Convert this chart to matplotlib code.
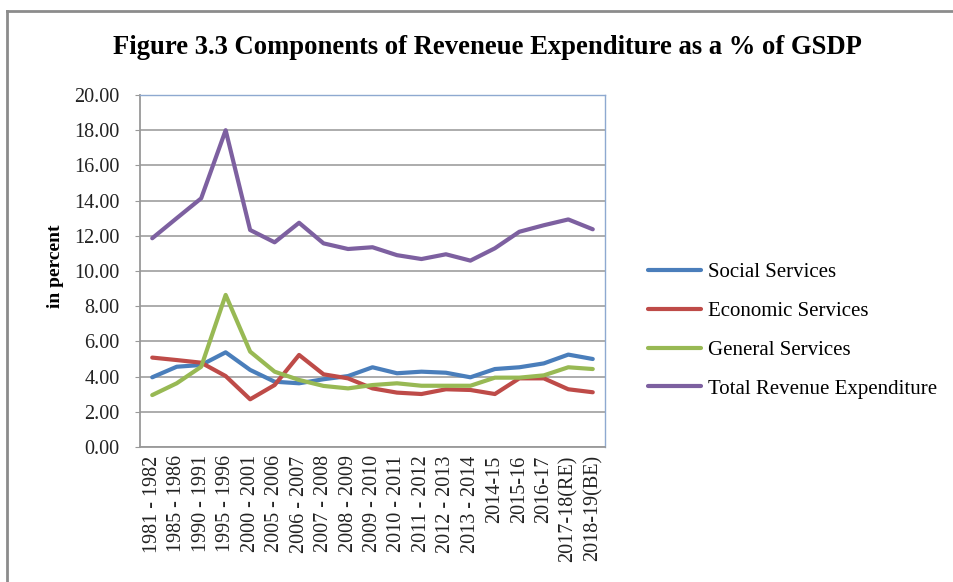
import matplotlib
matplotlib.use("Agg")
import matplotlib.pyplot as plt
from matplotlib.lines import Line2D

periods = ["1981 - 1982", "1985 - 1986", "1990 - 1991", "1995 - 1996", "2000 - 2001",
           "2005 - 2006", "2006 - 2007", "2007 - 2008", "2008 - 2009", "2009 - 2010",
           "2010 - 2011", "2011 - 2012", "2012 - 2013", "2013 - 2014", "2014-15",
           "2015-16", "2016-17", "2017-18(RE)", "2018-19(BE)"]

social = [3.96, 4.56, 4.66, 5.38, 4.38, 3.71, 3.62, 3.85, 4.03, 4.53,
          4.19, 4.28, 4.22, 3.96, 4.43, 4.53, 4.75, 5.25, 5.00]
economic = [5.08, 4.94, 4.79, 4.03, 2.71, 3.52, 5.23, 4.13, 3.90, 3.33,
            3.09, 3.01, 3.28, 3.24, 3.01, 3.90, 3.90, 3.28, 3.11]
general = [2.95, 3.62, 4.56, 8.64, 5.42, 4.28, 3.81, 3.47, 3.33, 3.52,
           3.62, 3.48, 3.48, 3.48, 3.94, 3.94, 4.07, 4.53, 4.43]
total = [11.86, 13.00, 14.13, 18.00, 12.33, 11.63, 12.74, 11.57, 11.25, 11.35,
         10.90, 10.68, 10.95, 10.59, 11.29, 12.23, 12.60, 12.93, 12.37]

series_names = ["Social Services", "Economic Services", "General Services",
                "Total Revenue Expenditure"]
series_colors = ["#4A7EBB", "#BE4B48", "#98B954", "#7D60A0"]

W, H = 954, 582
fig = plt.figure(figsize=(W / 100, H / 100), dpi=100)
ax = fig.add_axes([140 / W, 1 - 447 / H, 465 / W, 352 / H])

serif = ["Liberation Serif", "DejaVu Serif"]

x = list(range(len(periods)))
for vals, name, col in zip([social, economic, general, total], series_names, series_colors):
    ax.plot(x, vals, color=col, lw=3.0, label=name, solid_capstyle="round",
            solid_joinstyle="round")

ax.set_xlim(-0.5, len(periods) - 0.5)
ax.set_ylim(0, 20)
ax.set_yticks([i * 2 for i in range(11)])
ax.set_yticklabels([f"{i * 2:.2f}" for i in range(11)], fontfamily=serif, fontsize=14.5,
                   color="#222222")
ax.set_xticks(x)
ax.set_xticklabels(periods, rotation=90, fontfamily=serif, fontsize=14.5, color="#222222")
ax.tick_params(axis="y", length=3.6, color="#999999", pad=11)
ax.tick_params(axis="x", length=0, pad=6)
ax.grid(axis="y", color="#A6A6A6", lw=1.3)
ax.set_axisbelow(True)
for side in ("left", "bottom"):
    ax.spines[side].set_color("#999999")
    ax.spines[side].set_linewidth(1.3)
for side in ("top", "right"):
    ax.spines[side].set_color("#8EA9D0")
    ax.spines[side].set_linewidth(1.0)

ax.set_ylabel("in percent", fontfamily=serif, fontsize=14, fontweight="bold")
ax.yaxis.set_label_coords((64 - 140) / 465, (447 - 266) / 352)

fig.text(487 / W, 1 - 47 / H, "Figure 3.3 Components of Reveneue Expenditure as a % of GSDP",
         ha="center", va="center", fontfamily=serif, fontsize=19.2, fontweight="bold")

fig.legend(loc="upper left", bbox_to_anchor=(629 / W, 1 - 244 / H), frameon=False,
           prop={"family": serif, "size": 15}, handlelength=2.55, handletextpad=0.33,
           labelspacing=0.92)

# outer chart frame
fig.add_artist(Line2D([7 / W, 7 / W], [0, 1 - 11 / H], transform=fig.transFigure,
                      color="#8C8C8C", lw=2))
fig.add_artist(Line2D([7 / W, 1], [1 - 11 / H, 1 - 11 / H], transform=fig.transFigure,
                      color="#8C8C8C", lw=2))

fig.savefig("out.png", dpi=100)
